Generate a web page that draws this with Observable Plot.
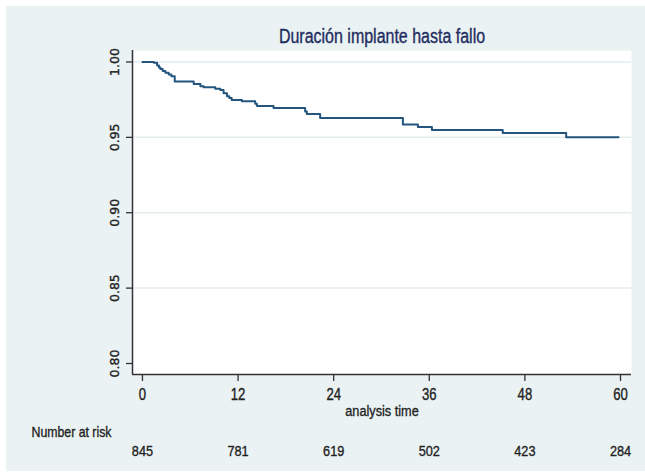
<!DOCTYPE html>
<html>
<head>
<meta charset="utf-8">
<script src="https://cdn.jsdelivr.net/npm/d3@7"></script>
<script src="https://cdn.jsdelivr.net/npm/@observablehq/plot@0.6"></script>
<style>
  html, body { margin: 0; padding: 0; background: #ffffff; }
  #wrap { position: relative; width: 645px; height: 472px; overflow: hidden; }
  #panel { position: absolute; left: 6px; top: 6px; width: 639px; height: 465px; background: #eaf2f3; }
  #chart { position: absolute; left: 0; top: 0; }
</style>
</head>
<body>
<div id="wrap"><div id="panel"></div><div id="chart"></div></div>
<script>
// Kaplan–Meier estimate: time (months) of each drop and survival after it
const times = [0, 1.42, 1.84, 2.07, 2.25, 2.54, 2.88, 3.29, 3.63, 4.05, 6.43, 7.27, 7.68, 9.14, 9.77,
  10.18, 10.61, 10.9, 11.2, 12.49, 14.15, 14.37, 16.45, 20.42, 20.63, 22.3, 32.69, 34.57, 36.33,
  45.22, 53.18, 59.75];
const survival = [1.0, 0.9995, 0.9977, 0.9964, 0.9954, 0.994, 0.9928, 0.9917, 0.9906, 0.9871, 0.9854,
  0.9839, 0.9832, 0.9822, 0.9814, 0.9793, 0.9773, 0.9761, 0.9748, 0.974, 0.9723, 0.9708, 0.9695,
  0.9672, 0.9655, 0.9629, 0.9585, 0.9569, 0.9549, 0.9529, 0.95, 0.95];

// Axis ticks
const xTicks = [0, 12, 24, 36, 48, 60];
const yTicks = [0.8, 0.85, 0.9, 0.95, 1.0];
const gridTicks = [0.85, 0.9, 0.95, 1.0];

// Number at risk under each x tick
const riskTimes = [0, 12, 24, 36, 48, 60];
const riskCounts = [845, 781, 619, 502, 423, 284];

const titleText = "Duración implante hasta fallo";
const xLabel = "analysis time";
const riskLabel = "Number at risk";

const curve = times.map((t, i) => ({t, s: survival[i]}));
const risk = riskTimes.map((t, i) => ({t, n: riskCounts[i]}));

// horizontal text is set in Liberation Sans and condensed afterwards
const narrow = "'Liberation Sans', Arial, sans-serif";
const condense = 0.82;
const xDomain = [-1.25, 61.38];
const yDomain = [0.7927, 1.0076];

const chart = Plot.plot({
  width: 645,
  height: 472,
  marginLeft: 132,
  marginRight: 14,
  marginTop: 50,
  marginBottom: 98,
  style: {background: "transparent", overflow: "visible"},
  x: {domain: xDomain},
  y: {domain: yDomain},
  marks: [
    Plot.frame({fill: "#ffffff", stroke: "none"}),
    Plot.ruleY(gridTicks, {stroke: "#e3edf0", strokeWidth: 1.5}),
    Plot.line(curve, {x: "t", y: "s", curve: "step-after", stroke: "#24557f", strokeWidth: 2}),
    // axis lines
    Plot.ruleY([yDomain[0]], {stroke: "#333333", strokeWidth: 1.5}),
    Plot.ruleX([xDomain[0]], {stroke: "#333333", strokeWidth: 1.5}),
    // y ticks and rotated labels
    Plot.axisY({ticks: yTicks, tickSize: 6, tickFormat: () => "", label: null, stroke: "#333333", strokeWidth: 1.3}),
    Plot.text(yTicks, {
      y: d => d, text: d => d3.format(".2f")(d), frameAnchor: "left", dx: -18,
      rotate: -90, textAnchor: "middle", lineAnchor: "middle",
      fontSize: 12.5, fontFamily: "'DejaVu Sans', sans-serif", fill: "#222222"
    }),
    // x ticks and labels
    Plot.axisX({
      ticks: xTicks, tickSize: 7, tickPadding: 7, label: null,
      fontSize: 16, fontFamily: narrow, stroke: "#333333", strokeWidth: 1.3, fill: "#222222"
    }),
    Plot.text([xLabel], {frameAnchor: "bottom", dy: 37, lineAnchor: "middle", fontSize: 15.5, fontFamily: narrow, fill: "#222222"}),
    // number at risk table
    Plot.text([riskLabel], {frameAnchor: "bottom-left", dx: -101, dy: 58, textAnchor: "start", lineAnchor: "middle", fontSize: 15, fontFamily: narrow, fill: "#222222"}),
    Plot.text(risk, {x: "t", text: "n", frameAnchor: "bottom", dy: 77, lineAnchor: "middle", fontSize: 15.5, fontFamily: narrow, fill: "#222222"}),
    // title
    Plot.text([titleText], {frameAnchor: "top", dy: -14, lineAnchor: "middle", fontSize: 19.5, fontFamily: narrow, fill: "#1f2d5f"})
  ]
});
document.getElementById("chart").append(chart);

// condense the horizontal (Liberation Sans) labels and give all labels a slightly heavier stroke
chart.querySelectorAll("text").forEach(el => {
  const style = getComputedStyle(el);
  const fam = style.fontFamily || "";
  el.style.stroke = style.fill;
  el.style.strokeWidth = "0.35px";
  if (!fam.includes("Liberation")) return;
  const len = el.getComputedTextLength();
  if (len > 0) {
    el.setAttribute("textLength", (len * condense).toFixed(2));
    el.setAttribute("lengthAdjust", "spacingAndGlyphs");
  }
});
</script>
</body>
</html>
